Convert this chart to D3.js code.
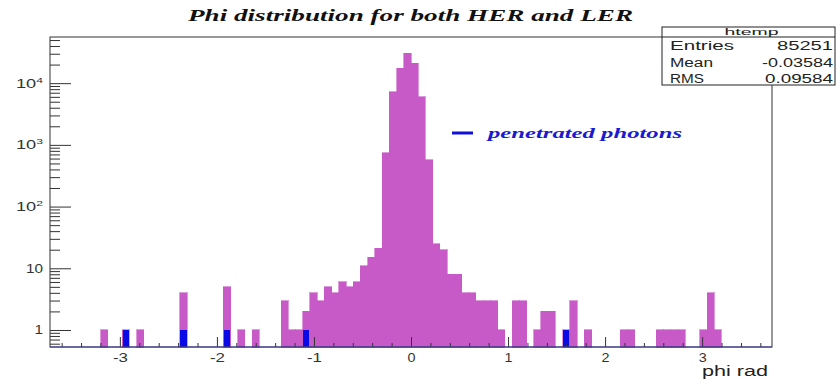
<!DOCTYPE html>
<html>
<head>
<meta charset="utf-8">
<script src="https://cdn.jsdelivr.net/npm/d3@7"></script>
<style>
  body { margin: 0; background: #fff; }
  svg { display: block; }
</style>
</head>
<body>
<svg id="chart"></svg>
<script>
// histogram binning (phi, rad)
const phiMin = -3.72;
const phiMax = 3.72;
const nBins = 100;

// all photons, HER + LER, counts per bin
const allCounts = [
  0, 0, 0, 0, 0, 0, 0, 1, 0, 0,
  1, 0, 1, 0, 0, 0, 0, 0, 4, 0,
  0, 0, 0, 0, 5, 0, 1, 0, 1, 0,
  0, 0, 3, 1, 1, 2, 4, 3, 5, 4,
  6, 5, 6, 11, 15, 21, 740, 7300, 17400, 30400,
  21000, 6000, 570, 25, 20, 8, 8, 4, 4, 3,
  3, 3, 1, 0, 3, 3, 0, 1, 2, 2,
  0, 1, 3, 0, 1, 0, 0, 0, 0, 1,
  1, 0, 0, 0, 1, 1, 1, 1, 0, 0,
  1, 4, 1, 0, 0, 0, 0, 0, 0, 0
];

// penetrated photons: bin index -> count
const penetratedBins = [10, 18, 24, 35, 71];
const penetratedCounts = [1, 1, 1, 1, 1];

const xMajorTicks = [-3, -2, -1, 0, 1, 2, 3];
const yMajorTicks = [1, 10, 100, 1000, 10000];
const yTickLabels = ['1', '10', '10^2', '10^3', '10^4'];

const statsRows = [
  ['Entries', '85251'],
  ['Mean', '-0.03584'],
  ['RMS', '0.09584']
];

const width = 837, height = 380;
const margin = { top: 37, right: 65, bottom: 33, left: 50 };
const sans = 'Liberation Sans, Arial, sans-serif';
const serif = 'Liberation Serif, Times New Roman, serif';

const svg = d3.select('#chart')
  .attr('width', width)
  .attr('height', height)
  .attr('viewBox', `0 0 ${width} ${height}`);

svg.append('rect').attr('width', width).attr('height', height).attr('fill', '#fff');

const x = d3.scaleLinear()
  .domain([phiMin, phiMax])
  .range([margin.left, width - margin.right]);

const y = d3.scaleLog()
  .domain([0.53, 56000])
  .range([height - margin.bottom, margin.top]);

const binW = (phiMax - phiMin) / nBins;
const binLo = i => phiMin + i * binW;

const histAll = allCounts.map((c, i) => ({ i, c })).filter(d => d.c > 0);
const histPen = penetratedBins.map((b, k) => ({ i: b, c: penetratedCounts[k] }));

const g = svg.append('g');

// Main histogram
g.selectAll('.bar-all')
  .data(histAll)
  .join('rect')
  .attr('class', 'bar-all')
  .attr('x', d => x(binLo(d.i)))
  .attr('width', d => x(binLo(d.i + 1)) - x(binLo(d.i)))
  .attr('y', d => y(d.c))
  .attr('height', d => y.range()[0] - y(d.c))
  .attr('fill', '#c85ac8')
  .attr('stroke', '#c85ac8')
  .attr('stroke-width', 0.6)
  .attr('shape-rendering', 'crispEdges');

// Penetrated photons overlay
g.selectAll('.bar-pen')
  .data(histPen)
  .join('rect')
  .attr('class', 'bar-pen')
  .attr('x', d => x(binLo(d.i)) + 0.5)
  .attr('width', d => x(binLo(d.i + 1)) - x(binLo(d.i)) - 1)
  .attr('y', d => y(d.c))
  .attr('height', d => y.range()[0] - y(d.c))
  .attr('fill', '#0a0ae6')
  .attr('shape-rendering', 'crispEdges');

// X axis (ticks point inward)
const xMinor = d3.range(-36, 37, 2).map(v => v / 10).filter(v => !Number.isInteger(v));
g.append('g')
  .attr('transform', `translate(0,${height - margin.bottom})`)
  .call(d3.axisBottom(x).tickValues(xMinor).tickSize(-4).tickFormat(''))
  .call(a => a.select('.domain').remove())
  .selectAll('line').attr('stroke', '#333');

const xAxis = g.append('g')
  .attr('transform', `translate(0,${height - margin.bottom})`)
  .call(d3.axisBottom(x).tickValues(xMajorTicks).tickSize(-10).tickPadding(6).tickFormat(d3.format('d')));
xAxis.select('.domain').remove();
xAxis.selectAll('line').attr('stroke', '#333');
xAxis.selectAll('text')
  .attr('font-family', sans)
  .attr('font-size', 13)
  .attr('fill', '#333')
  .text(d => String(d).replace('−', '-'))
  .attr('textLength', d => d < 0 ? 15 : 8)
  .attr('lengthAdjust', 'spacingAndGlyphs');

// Y axis, log scale with minor ticks 2..9
const yMinor = [];
[-1, 0, 1, 2, 3, 4].forEach(e => {
  for (let k = 2; k <= 9; k++) {
    const v = k * Math.pow(10, e);
    if (v >= y.domain()[0] && v <= y.domain()[1]) yMinor.push(v);
  }
});
g.append('g')
  .attr('transform', `translate(${margin.left},0)`)
  .call(d3.axisLeft(y).tickValues(yMinor).tickSize(-10).tickFormat(''))
  .call(a => a.select('.domain').remove())
  .selectAll('line').attr('stroke', '#333');

const yAxis = g.append('g')
  .attr('transform', `translate(${margin.left},0)`)
  .call(d3.axisLeft(y).tickValues(yMajorTicks).tickSize(-21).tickPadding(7).tickFormat(() => ''));
yAxis.select('.domain').remove();
yAxis.selectAll('line').attr('stroke', '#333');
yAxis.selectAll('text').each(function (d, i) {
  const parts = yTickLabels[i].split('^');
  const t = d3.select(this)
    .attr('font-family', sans)
    .attr('font-size', 12)
    .attr('fill', '#333')
    .attr('textLength', parts[1] ? 27 : parts[0].length * 8.5)
    .attr('lengthAdjust', 'spacingAndGlyphs');
  t.append('tspan').text(parts[0]);
  if (parts[1]) {
    t.append('tspan').attr('font-size', 8).attr('dy', -5).text(parts[1]);
  }
});

// Frame
g.append('rect')
  .attr('x', margin.left)
  .attr('y', margin.top)
  .attr('width', width - margin.left - margin.right)
  .attr('height', height - margin.top - margin.bottom)
  .attr('fill', 'none')
  .attr('stroke', '#333')
  .attr('stroke-width', 1);
g.append('line')
  .attr('x1', margin.left).attr('x2', width - margin.right)
  .attr('y1', height - margin.bottom).attr('y2', height - margin.bottom)
  .attr('stroke', '#3a3aa8');

// Title
svg.append('text')
  .attr('x', 188)
  .attr('y', 21)
  .attr('font-family', serif)
  .attr('font-weight', 'bold')
  .attr('font-style', 'italic')
  .attr('font-size', 17)
  .attr('fill', '#111')
  .attr('textLength', 445)
  .attr('lengthAdjust', 'spacingAndGlyphs')
  .text('Phi distribution for both HER and LER');

// Axis title
svg.append('text')
  .attr('x', 702)
  .attr('y', 376)
  .attr('font-family', sans)
  .attr('font-size', 14)
  .attr('fill', '#222')
  .attr('textLength', 66)
  .attr('lengthAdjust', 'spacingAndGlyphs')
  .text('phi rad');

// Legend
svg.append('line')
  .attr('x1', 452).attr('x2', 473)
  .attr('y1', 133).attr('y2', 133)
  .attr('stroke', '#1010d8')
  .attr('stroke-width', 3);
svg.append('text')
  .attr('x', 488)
  .attr('y', 138)
  .attr('font-family', serif)
  .attr('font-weight', 'bold')
  .attr('font-style', 'italic')
  .attr('font-size', 15)
  .attr('fill', '#1a1ad0')
  .attr('textLength', 194)
  .attr('lengthAdjust', 'spacingAndGlyphs')
  .text('penetrated photons');

// Stats box
const sb = { x: 662, y: 27, w: 173, h: 58, head: 10 };
const statLabelW = [64, 43, 34];
const statValueW = [56, 71, 68];
const stats = svg.append('g');
stats.append('rect')
  .attr('x', sb.x).attr('y', sb.y).attr('width', sb.w).attr('height', sb.h)
  .attr('fill', '#fff').attr('stroke', '#222');
stats.append('line')
  .attr('x1', sb.x).attr('x2', sb.x + sb.w)
  .attr('y1', sb.y + sb.head).attr('y2', sb.y + sb.head)
  .attr('stroke', '#222');
stats.append('text')
  .attr('x', sb.x + sb.w / 2 + 3)
  .attr('y', sb.y + 8)
  .attr('text-anchor', 'middle')
  .attr('font-family', sans)
  .attr('font-size', 9.5)
  .attr('fill', '#222')
  .attr('textLength', 54)
  .attr('lengthAdjust', 'spacingAndGlyphs')
  .text('htemp');
statsRows.forEach((row, k) => {
  const ty = sb.y + 23 + k * 16.5;
  stats.append('text')
    .attr('x', sb.x + 8).attr('y', ty)
    .attr('font-family', sans)
    .attr('font-size', 12).attr('fill', '#222')
    .attr('textLength', statLabelW[k])
    .attr('lengthAdjust', 'spacingAndGlyphs')
    .text(row[0]);
  stats.append('text')
    .attr('x', sb.x + sb.w - 2).attr('y', ty)
    .attr('text-anchor', 'end')
    .attr('font-family', sans)
    .attr('font-size', 12).attr('fill', '#222')
    .attr('textLength', statValueW[k])
    .attr('lengthAdjust', 'spacingAndGlyphs')
    .text(row[1]);
});
</script>
</body>
</html>
